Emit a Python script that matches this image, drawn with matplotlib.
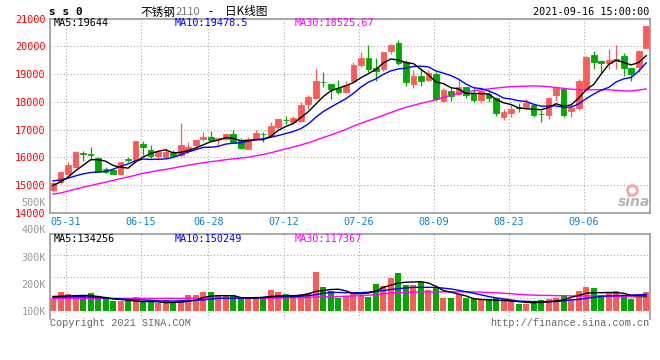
import matplotlib
matplotlib.use("Agg")
import matplotlib.pyplot as plt
import numpy as np

# 交易日 (2021)
dates = ["05-27", "05-28", "05-31", "06-01", "06-02", "06-03", "06-04", "06-07", "06-08", "06-09",
         "06-10", "06-11", "06-15", "06-16", "06-17", "06-18", "06-21", "06-22", "06-23", "06-24",
         "06-25", "06-28", "06-29", "06-30", "07-01", "07-02", "07-05", "07-06", "07-07", "07-08",
         "07-09", "07-12", "07-13", "07-14", "07-15", "07-16", "07-19", "07-20", "07-21", "07-22",
         "07-23", "07-26", "07-27", "07-28", "07-29", "07-30", "08-02", "08-03", "08-04", "08-05",
         "08-06", "08-09", "08-10", "08-11", "08-12", "08-13", "08-16", "08-17", "08-18", "08-19",
         "08-20", "08-23", "08-24", "08-25", "08-26", "08-27", "08-30", "08-31", "09-01", "09-02",
         "09-03", "09-06", "09-07", "09-08", "09-09", "09-10", "09-13", "09-14", "09-15", "09-16"]
tick_dates = ["05-31", "06-15", "06-28", "07-12", "07-26", "08-09", "08-23", "09-06"]

opens = [14830, 15100, 15410, 15640, 16150, 16110, 15970, 15590, 15550, 15410,
         15930, 15910, 16490, 16270, 16060, 16010, 16150, 16090, 16240, 16450,
         16670, 16740, 16680, 16660, 16840, 16630, 16320, 16660, 16850, 16810,
         17110, 17360, 17280, 17330, 17930, 18130, 18730, 18650, 18490, 18350,
         18760, 19330, 19590, 19240, 19190, 19850, 20140, 19430, 18640, 18940,
         18790, 19020, 18040, 18400, 18290, 18550, 18290, 18070, 18290, 18130,
         17470, 17590, 17820, 17830, 17890, 17570, 17530, 18250, 18460, 17690,
         17770, 18470, 19690, 19490, 19420, 19490, 19670, 19210, 19270, 19960]
closes = [15080, 15470, 15730, 16180, 16130, 16080, 15490, 15460, 15410, 15820,
          15910, 16600, 16360, 16060, 16190, 16180, 16060, 16440, 16390, 16630,
          16750, 16630, 16700, 16850, 16510, 16330, 16660, 16870, 16830, 17140,
          17390, 17350, 17430, 17890, 18190, 18760, 18710, 18460, 18370, 18610,
          19330, 19590, 19190, 19130, 19800, 20040, 19390, 18730, 18950, 18760,
          19060, 18100, 18430, 18220, 18550, 18250, 18070, 18410, 18130, 17620,
          17630, 17750, 17800, 17980, 17530, 17550, 18130, 18490, 17530, 17770,
          18770, 19630, 19450, 19390, 19510, 19550, 19210, 19010, 19840, 20740]
highs = [15100, 15530, 15840, 16240, 16240, 16360, 16010, 15670, 15590, 15850,
         16000, 16600, 16600, 16450, 16270, 16330, 16270, 17260, 16570, 16670,
         16920, 16970, 16700, 16850, 16990, 16690, 16750, 16990, 16930, 17270,
         17390, 17500, 17500, 18010, 18250, 19180, 19080, 18650, 18790, 18760,
         19430, 19800, 20050, 19570, 19800, 20090, 20230, 19510, 19150, 19210,
         19150, 19090, 18490, 18490, 18820, 18550, 18490, 18550, 18430, 18190,
         17740, 17890, 17950, 18100, 17890, 17710, 18190, 18550, 18490, 17980,
         18820, 19660, 19840, 19490, 19910, 20050, 19780, 19210, 19870, 20740]
lows = [14760, 15050, 15380, 15610, 15890, 15910, 15470, 15430, 15410, 15370,
        15820, 15910, 16090, 15970, 15910, 15970, 16010, 16030, 16150, 16330,
        16610, 16570, 16450, 16630, 16510, 16300, 16300, 16630, 16540, 16810,
        16990, 17210, 17210, 17290, 17750, 18100, 18530, 18100, 18280, 18310,
        18670, 19250, 19090, 18760, 19130, 19730, 19330, 18580, 18520, 18590,
        18760, 18040, 18010, 18040, 18250, 18160, 18010, 17950, 18010, 17510,
        17350, 17470, 17650, 17770, 17470, 17290, 17390, 18040, 17450, 17470,
        17710, 18430, 19190, 19060, 19180, 19180, 18950, 18770, 19090, 19960]

ma5 = [14990, 15120, 15290, 15520, 15718, 15918, 15923, 15867, 15714, 15651,
       15616, 15837, 16017, 16147, 16221, 16275, 16167, 16184, 16251, 16340,
       16455, 16571, 16622, 16714, 16690, 16606, 16610, 16645, 16641, 16766,
       16977, 17116, 17226, 17439, 17650, 17924, 18196, 18403, 18499, 18583,
       18698, 18872, 19019, 19170, 19407, 19549, 19511, 19419, 19383, 19175,
       18978, 18719, 18659, 18513, 18472, 18311, 18306, 18301, 18284, 18097,
       17972, 17907, 17786, 17754, 17738, 17722, 17799, 17937, 17848, 17896,
       18140, 18440, 18632, 19004, 19352, 19508, 19424, 19335, 19424, 19669]
ma10 = [15157, 15193, 15253, 15337, 15409, 15457, 15481, 15493, 15577, 15685,
        15767, 15880, 15942, 15930, 15936, 15946, 16002, 16101, 16199, 16281,
        16365, 16369, 16403, 16483, 16515, 16531, 16591, 16634, 16677, 16728,
        16791, 16863, 16936, 17040, 17208, 17450, 17656, 17814, 17969, 18116,
        18311, 18534, 18711, 18834, 18995, 19123, 19191, 19219, 19277, 19291,
        19263, 19115, 19039, 18948, 18823, 18645, 18513, 18480, 18399, 18285,
        18142, 18107, 18043, 18019, 17917, 17847, 17853, 17861, 17801, 17817,
        17931, 18119, 18285, 18426, 18524, 18724, 18832, 18884, 19114, 19411]
ma30 = [14680, 14720, 14790, 14860, 14930, 14990, 15050, 15110, 15170, 15240,
        15300, 15360, 15430, 15480, 15530, 15570, 15620, 15670, 15720, 15770,
        15810, 15850, 15880, 15920, 15950, 15980, 16010, 16060, 16110, 16170,
        16240, 16310, 16380, 16450, 16530, 16620, 16720, 16810, 16910, 17010,
        17130, 17230, 17330, 17420, 17520, 17620, 17720, 17810, 17880, 17950,
        18010, 18080, 18170, 18240, 18300, 18360, 18400, 18440, 18470, 18500,
        18530, 18550, 18560, 18570, 18580, 18570, 18550, 18520, 18490, 18460,
        18440, 18440, 18440, 18440, 18440, 18420, 18400, 18400, 18430, 18470]

volumes = [150000, 171000, 163000, 158000, 158000, 167000, 156000, 149000, 137000, 137000,
           140000, 152000, 136000, 137000, 131000, 140000, 135000, 137000, 158000, 158000,
           171000, 171000, 156000, 158000, 158000, 153000, 151000, 147000, 153000, 178000,
           171000, 163000, 153000, 164000, 168000, 245000, 189000, 174000, 150000, 156000,
           172000, 156000, 153000, 200000, 193000, 223000, 241000, 197000, 197000, 209000,
           178000, 188000, 150000, 150000, 163000, 150000, 145000, 142000, 146000, 150000,
           143000, 140000, 126000, 126000, 138000, 141000, 145000, 148000, 156000, 145000,
           174000, 189000, 185000, 158000, 169000, 174000, 157000, 145000, 163000, 171000]
vol_ma5 = [154, 155, 156, 157, 158, 157, 154, 150, 145, 143,
           140, 137, 135, 136, 134, 131, 132, 133, 136, 140,
           150, 155, 157, 157, 157, 150, 148, 148, 151, 154,
           156, 157, 157, 158, 164, 173, 176, 180, 181, 175,
           165, 164, 167, 174, 188, 196, 204, 207, 208, 209,
           204, 192, 176, 170, 163, 156, 146, 143, 141, 140,
           139, 137, 135, 132, 131, 132, 134, 138, 141, 151,
           158, 166, 168, 168, 169, 168, 166, 158, 157, 156]
vol_ma10 = [151, 152, 152, 153, 153, 152, 150, 148, 146, 145,
            143, 142, 141, 140, 138, 137, 137, 138, 138, 140,
            141, 144, 147, 147, 147, 148, 149, 150, 150, 152,
            153, 153, 153, 155, 157, 161, 166, 169, 169, 168,
            168, 168, 170, 173, 176, 180, 183, 186, 188, 188,
            188, 188, 185, 182, 177, 172, 166, 160, 154, 149,
            145, 141, 137, 136, 135, 135, 135, 135, 138, 141,
            143, 147, 151, 154, 156, 157, 158, 159, 160, 162]
vol_ma30 = [147, 147, 147, 147, 147, 147, 147, 147, 147, 147,
            147, 147, 147, 147, 147, 147, 147, 147, 147, 147,
            147, 148, 148, 148, 148, 148, 148, 148, 148, 148,
            148, 149, 150, 150, 151, 152, 153, 153, 154, 155,
            156, 157, 159, 161, 164, 167, 168, 169, 170, 171,
            171, 171, 171, 171, 171, 171, 171, 170, 169, 168,
            166, 164, 162, 160, 159, 158, 158, 157, 157, 156,
            156, 156, 156, 156, 155, 154, 154, 153, 152, 151]

RED = "#ff5a5a"
GREEN = "#00a800"
GRID = "#aaaaaa"
FRAME = "#999999"
MONO = "DejaVu Sans Mono"
CJK = ["Noto Sans CJK SC", "DejaVu Sans"]
plt.rcParams["font.family"] = [MONO]

W, H = 660.0, 360.0


def rect(l, t, r, b):
    return [l / W, 1 - b / H, (r - l) / W, (b - t) / H]


fig = plt.figure(figsize=(6.6, 3.6), dpi=100)
ax = fig.add_axes(rect(50, 18.7, 650, 213))
axv = fig.add_axes(rect(50, 234, 650, 319))

x = np.arange(len(dates))
o = np.array(opens)
c = np.array(closes)
colors = np.where(c >= o, RED, GREEN)
grid_x = [dates.index(d) - 0.3 for d in tick_dates]

# K线
ax.vlines(x, lows, highs, colors=colors, lw=0.9, zorder=2)
ax.bar(x, np.abs(c - o), bottom=np.minimum(o, c), width=0.76, color=colors,
       edgecolor=colors, linewidth=0.6, zorder=2)
ax.plot(x, ma30, color="#ff00ff", lw=1, zorder=3)
ax.plot(x, ma10, color="#0000ff", lw=1, zorder=3)
ax.plot(x, ma5, color="black", lw=1, zorder=3)

ax.set_xlim(-0.4, 79.5)
ax.set_ylim(14000, 21000)
ax.set_xticks(grid_x)
ax.set_xticklabels(tick_dates)
ax.set_yticks(range(14000, 21001, 1000))
ax.grid(True, color=GRID, linestyle=(0, (1, 2)), lw=0.8)
ax.set_axisbelow(True)
ax.tick_params(length=0, labelsize=7.3)
ax.tick_params(axis="y", labelcolor="red", pad=3)
ax.tick_params(axis="x", labelcolor="#0a84d8", pad=3)
for s in ax.spines.values():
    s.set_color(FRAME)
    s.set_linewidth(1.2)

# 成交量
vol = np.array(volumes)
base = 100000
axv.bar(x, vol - base, bottom=base, width=0.8, color=colors, linewidth=0, zorder=2)
axv.plot(x, np.array(vol_ma30) * 1000, color="#ff00ff", lw=1, zorder=3)
axv.plot(x, np.array(vol_ma10) * 1000, color="#0000ff", lw=1, zorder=3)
axv.plot(x, np.array(vol_ma5) * 1000, color="black", lw=1, zorder=3)
axv.set_xlim(-0.4, 79.5)
axv.set_ylim(70300, 386200)
axv.set_xticks(grid_x)
axv.set_xticklabels([])
axv.grid(True, axis="x", color=GRID, linestyle=(0, (1, 2)), lw=0.8)
axv.set_axisbelow(True)
for f in [0.25, 0.5, 0.75]:
    axv.plot([0, 1], [f, f], transform=axv.transAxes, color=GRID,
             linestyle=(0, (1, 2)), lw=0.8, zorder=0)
axv.set_yticks([100000, 200000, 300000])
axv.set_yticklabels(["100K", "200K", "300K"])
axv.tick_params(length=0, labelsize=7.3, labelcolor="#999999", pad=3)
for v, lab in [(400000, "400K"), (500000, "500K")]:
    axv.text(-0.0065, v, lab, transform=axv.get_yaxis_transform(), ha="right",
             va="center", fontsize=7.3, color="#999999", clip_on=False)
for k, s in axv.spines.items():
    s.set_color(FRAME)
    s.set_linewidth(1.2)
axv.spines["bottom"].set_visible(False)

# 文字
def ftext(px, py, s, **kw):
    kw.setdefault("va", "center")
    kw.setdefault("fontsize", 7.3)
    fig.text(px / W, 1 - py / H, s, **kw)


ftext(49, 12, "s s 0", fontweight="bold", fontsize=8)
ftext(140, 12, "不锈钢", family=CJK, fontsize=8.4)
ftext(176, 12, "2110", family=CJK, fontsize=8, color="#777777")
ftext(210, 12, "-", family=CJK, fontsize=8.4, ha="center")
ftext(225, 12, "日K线图", family=CJK, fontsize=8.4)
ftext(649, 12, "2021-09-16 15:00:00", ha="right")

ftext(54, 23.5, "MA5:19644", color="black")
ftext(175, 23.5, "MA10:19478.5", color="#0000ff")
ftext(295, 23.5, "MA30:18525.67", color="#ff00ff")
ftext(54, 238.5, "MA5:134256", color="black")
ftext(175, 238.5, "MA10:150249", color="#0000ff")
ftext(295, 238.5, "MA30:117367", color="#ff00ff")

ftext(50, 323.5, "Copyright 2021 SINA.COM", color="#666666", family="Liberation Mono")
ftext(649, 323.5, "http://finance.sina.com.cn", color="#666666", ha="right",
      family="Liberation Mono")

# sina 水印
ax.plot([0.97], [0.12], "o", transform=ax.transAxes, mfc="none", mec="#f5a5a5",
        ms=7, mew=2, zorder=1)
ftext(634, 202, "sina", family="DejaVu Sans", style="italic", fontweight="bold",
      fontsize=10, color="#b5b5b5", ha="center")

fig.savefig("out.png", dpi=100)
